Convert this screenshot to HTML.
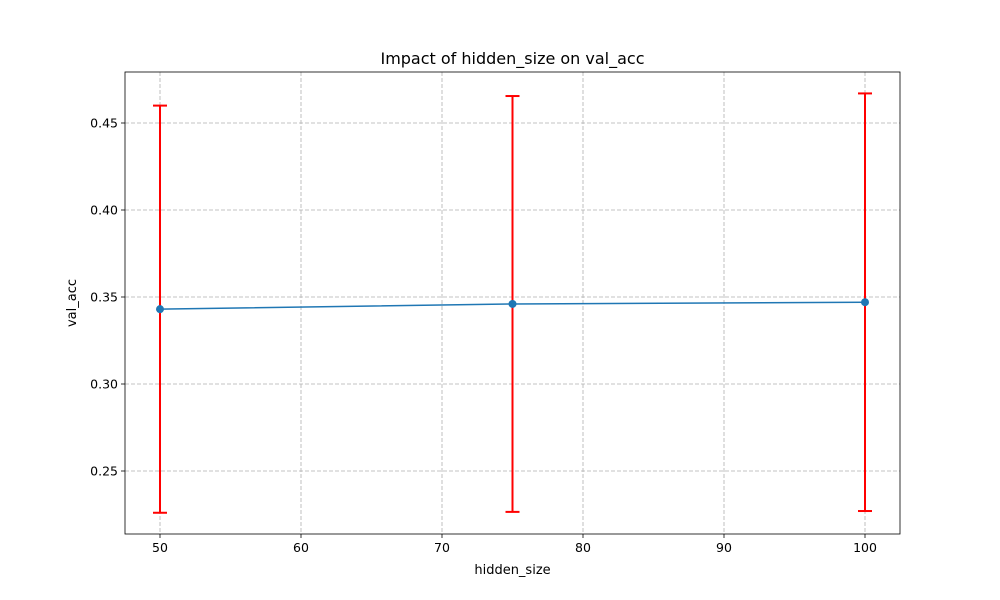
<!DOCTYPE html>
<html><head><meta charset="utf-8"><style>
body{margin:0;background:#fff;}
svg{display:block;font-family:"DejaVu Sans","Liberation Sans",sans-serif;}
</style></head><body>
<svg id="chart" width="1000" height="600" xmlns="http://www.w3.org/2000/svg"></svg>
<script>
const categories = [50, 75, 100];
const values = [0.343, 0.346, 0.347];
const errors = [0.117, 0.1195, 0.120];
const xTicks = [50, 60, 70, 80, 90, 100];
const yTicks = [0.25, 0.30, 0.35, 0.40, 0.45];
const yTickLabels = ["0.25", "0.30", "0.35", "0.40", "0.45"];

const L=125,R=900,T=72,B=534;
const xs = v => 160 + (v-50)*14.1;
const ys = v => 123 + (0.45-v)*1740;
const svg = document.getElementById('chart');
const NS='http://www.w3.org/2000/svg';
function mk(tag, attrs, parent){const e=document.createElementNS(NS,tag);for(const k in attrs)e.setAttribute(k,attrs[k]);(parent||svg).appendChild(e);return e;}

const grid = mk('g',{});


xTicks.forEach(t=>{
  const x=xs(t);
  mk('line',{x1:x,x2:x,y1:T,y2:B,stroke:'#b0b0b0','stroke-width':0.8,'stroke-dasharray':'4,2'},grid);
  mk('line',{x1:x,x2:x,y1:B,y2:B+4,stroke:'#000','stroke-width':0.8},grid);
  const tx=mk('text',{x:x,y:B+18,'text-anchor':'middle','font-size':12.5,fill:'#000'});
  tx.textContent=t;
  
  
});
yTicks.forEach((t,i)=>{
  const y=ys(t);
  mk('line',{x1:L,x2:R,y1:y,y2:y,stroke:'#b0b0b0','stroke-width':0.8,'stroke-dasharray':'4,2'},grid);
  mk('line',{x1:L-4,x2:L,y1:y,y2:y,stroke:'#000','stroke-width':0.8},grid);
  const tx=mk('text',{x:L-7,y:y+4.5,'text-anchor':'end','font-size':12.5,fill:'#000'});
  tx.textContent=yTickLabels[i];
  
  
});

categories.forEach((c,i)=>{
  const x=xs(c), y1=ys(values[i]+errors[i]), y2=ys(values[i]-errors[i]);
  const g=mk('g',{stroke:'red','stroke-width':2});
  
  
  mk('line',{x1:x,x2:x,y1:y1,y2:y2},g);
  mk('line',{x1:x-7,x2:x+7,y1:y1,y2:y1},g);
  mk('line',{x1:x-7,x2:x+7,y1:y2,y2:y2},g);
});
const pl=mk('polyline',{points:categories.map((c,i)=>xs(c)+','+ys(values[i])).join(' '),fill:'none',stroke:'#1f77b4','stroke-width':1.5});


categories.forEach((c,i)=>{
  const p=mk('circle',{cx:xs(c),cy:ys(values[i]),r:4,fill:'#1f77b4'});
  
  
});

const frame=mk('rect',{x:L,y:T,width:R-L,height:B-T,fill:'none',stroke:'#000','stroke-width':0.8});



const title=mk('text',{x:(L+R)/2,y:64,'text-anchor':'middle','font-size':16,fill:'#000'});
title.textContent='Impact of hidden_size on val_acc';


const xl=mk('text',{x:(L+R)/2,y:574,'text-anchor':'middle','font-size':13,fill:'#000'});
xl.textContent='hidden_size';


const yl=mk('text',{x:76,y:(T+B)/2,'text-anchor':'middle','font-size':13,fill:'#000',transform:'rotate(-90 76 '+((T+B)/2)+')'});
yl.textContent='val_acc';


</script>
</body></html>
